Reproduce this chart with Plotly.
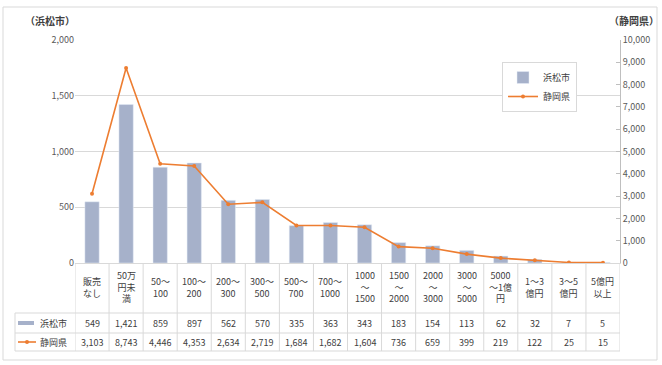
import plotly.graph_objects as go

# Sales-amount brackets (units: 万円) and counts for each area
categories = ["販売<br>なし", "50万<br>円未<br>満", "50～<br>100", "100～<br>200", "200～<br>300",
              "300～<br>500", "500～<br>700", "700～<br>1000", "1000<br>～<br>1500",
              "1500<br>～<br>2000", "2000<br>～<br>3000", "3000<br>～<br>5000",
              "5000<br>～1億<br>円", "1～3<br>億円", "3～5<br>億円", "5億円<br>以上"]
hamamatsu = [549, 1421, 859, 897, 562, 570, 335, 363, 343, 183, 154, 113, 62, 32, 7, 5]
shizuoka = [3103, 8743, 4446, 4353, 2634, 2719, 1684, 1682, 1604, 736, 659, 399, 219, 122, 25, 15]
series_names = ["浜松市", "静岡県"]
left_ticks = [0, 500, 1000, 1500, 2000]
right_ticks = list(range(0, 10001, 1000))

W, H = 662, 365
ML, MR, MT, MB = 75, 42, 40, 102
PW, PH = W - ML - MR, H - MT - MB

BAR_C = "#a6b1ca"
LINE_C = "#ed7d31"
GRID_C = "#d9d9d9"
TXT_C = "#404040"
FONT = "Noto Sans CJK JP"


def py(px):
    """pixel row -> paper y"""
    return (H - MB - px) / PH


def pxx(px):
    """pixel column -> paper x"""
    return (px - ML) / PW


xs = list(range(len(categories)))

fig = go.Figure()
fig.add_trace(go.Bar(x=xs, y=hamamatsu, name=series_names[0], marker_color=BAR_C,
                     width=0.42, yaxis="y"))
fig.add_trace(go.Scatter(x=xs, y=shizuoka, name=series_names[1], yaxis="y2",
                         mode="lines+markers", line=dict(color=LINE_C, width=1.6),
                         marker=dict(size=4, color=LINE_C)))

shapes = []
annotations = []

# data table grid below the plot
row_top, row1, row2, row_bot = 263, 313, 333, 351
n = len(categories)
for i in range(n + 1):
    shapes.append(dict(type="line", xref="x", yref="paper", x0=i - 0.5, x1=i - 0.5,
                       y0=py(row_top), y1=py(row_bot), line=dict(color=GRID_C, width=1)))
for r in (row1, row2, row_bot):
    shapes.append(dict(type="line", xref="paper", yref="paper", x0=pxx(15), x1=1,
                       y0=py(r), y1=py(r), line=dict(color=GRID_C, width=1)))
shapes.append(dict(type="line", xref="paper", yref="paper", x0=pxx(15), x1=pxx(15),
                   y0=py(row1), y1=py(row_bot), line=dict(color=GRID_C, width=1)))

# outer chart frame
shapes.append(dict(type="rect", xref="paper", yref="paper", x0=pxx(3), x1=pxx(657),
                   y0=py(360), y1=py(7), line=dict(color=GRID_C, width=1)))

# legend keys in the table rows
shapes.append(dict(type="rect", xref="paper", yref="paper", x0=pxx(18), x1=pxx(34),
                   y0=py(325), y1=py(321), fillcolor=BAR_C, line=dict(width=0)))
shapes.append(dict(type="line", xref="paper", yref="paper", x0=pxx(18), x1=pxx(36),
                   y0=py(342), y1=py(342), line=dict(color=LINE_C, width=1.6)))
shapes.append(dict(type="circle", xref="paper", yref="paper", x0=pxx(25), x1=pxx(29),
                   y0=py(344), y1=py(340), fillcolor=LINE_C, line=dict(width=0)))

for i, c in enumerate(categories):
    annotations.append(dict(x=i, y=py(287), xref="x", yref="paper", text=c, showarrow=False,
                            font=dict(size=9, color=TXT_C, family=FONT), align="center",
                            xanchor="center", yanchor="middle"))
    annotations.append(dict(x=i, y=py(323), xref="x", yref="paper", text=f"{hamamatsu[i]:,}",
                            showarrow=False, font=dict(size=9, color=TXT_C, family=FONT),
                            xanchor="center", yanchor="middle"))
    annotations.append(dict(x=i, y=py(342), xref="x", yref="paper", text=f"{shizuoka[i]:,}",
                            showarrow=False, font=dict(size=9, color=TXT_C, family=FONT),
                            xanchor="center", yanchor="middle"))

for name, yy in zip(series_names, (323, 342)):
    annotations.append(dict(x=pxx(38), y=py(yy), xref="paper", yref="paper", text=name,
                            showarrow=False, xanchor="left", yanchor="middle",
                            font=dict(size=9, color=TXT_C, family=FONT)))

# axis titles
annotations.append(dict(x=pxx(50), y=py(21), xref="paper", yref="paper", text="<b>（浜松市）</b>",
                        showarrow=False, xanchor="center", yanchor="middle",
                        font=dict(size=10, color=TXT_C, family=FONT)))
annotations.append(dict(x=pxx(634), y=py(21), xref="paper", yref="paper", text="<b>（静岡県）</b>",
                        showarrow=False, xanchor="center", yanchor="middle",
                        font=dict(size=10, color=TXT_C, family=FONT)))

fig.update_layout(
    width=W, height=H,
    margin=dict(l=ML, r=MR, t=MT, b=MB),
    plot_bgcolor="white", paper_bgcolor="white",
    font=dict(family=FONT, size=9, color=TXT_C),
    bargap=0.5,
    showlegend=True,
    legend=dict(x=pxx(502), y=py(62), xanchor="left", yanchor="top",
                bordercolor=GRID_C, borderwidth=1, bgcolor="white",
                font=dict(size=9, color=TXT_C, family=FONT),
                itemwidth=30, tracegroupgap=0),
    xaxis=dict(range=[-0.5, n - 0.5], showticklabels=False, showgrid=False,
               showline=True, linecolor=GRID_C, linewidth=1, zeroline=False, ticks=""),
    yaxis=dict(range=[0, 2000], tickvals=left_ticks, tickformat=",d", showgrid=True,
               gridcolor=GRID_C, gridwidth=1, zeroline=False, showline=False,
               tickfont=dict(size=9, color="#595959"), ticks=""),
    yaxis2=dict(range=[0, 10000], tickvals=right_ticks, tickformat=",d", overlaying="y",
                side="right", showgrid=False, zeroline=False, showline=True,
                linecolor="#bfbfbf", linewidth=1, ticks="inside", ticklen=4,
                tickcolor="#bfbfbf", tickfont=dict(size=9, color="#595959")),
    shapes=shapes,
    annotations=annotations,
)

fig.write_html("out.html")
